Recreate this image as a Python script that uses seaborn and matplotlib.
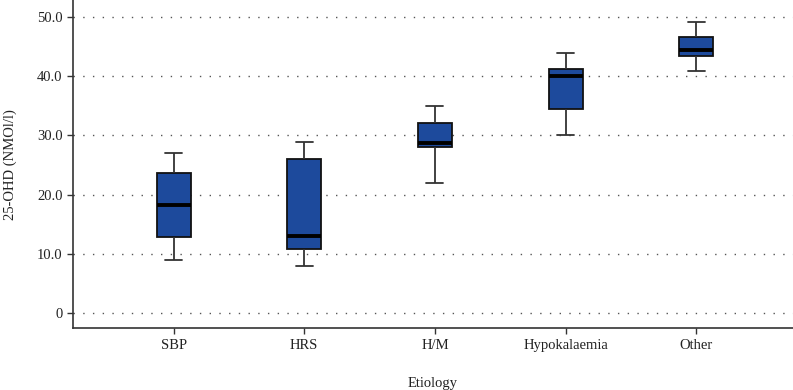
import matplotlib
matplotlib.use("Agg")
import matplotlib.pyplot as plt
import numpy as np
import pandas as pd
import seaborn as sns

# five-number summaries (min, q1, median, q3, max)
etiology = ["SBP", "HRS", "H/M", "Hypokalaemia", "Other"]
sbp = [9.0, 12.9, 18.3, 23.6, 27.0]
hrs = [7.9, 10.9, 13.0, 26.1, 28.9]
hm = [22.0, 28.0, 28.8, 32.1, 35.0]
hypok = [30.1, 34.5, 40.0, 41.2, 44.0]
other = [40.9, 43.5, 44.5, 46.7, 49.1]

yticks = [0, 10, 20, 30, 40, 50]
ytick_labels = ["0", "10.0", "20.0", "30.0", "40.0", "50.0"]

BOX_COLOR = "#1D4A9C"
LINE_COLOR = "#333333"

df = pd.DataFrame({
    "Etiology": np.repeat(etiology, 5),
    "ohd": sbp + hrs + hm + hypok + other,
})

sns.set_theme(style="white")
plt.rcParams["font.family"] = ["Liberation Serif", "DejaVu Serif"]

fig = plt.figure(figsize=(7.93, 3.90), dpi=100)
ax = fig.add_axes([0.092, 0.158, 0.908, 0.842])

sns.boxplot(
    data=df, x="Etiology", y="ohd", order=etiology,
    color=BOX_COLOR, saturation=1, width=0.26, whis=(0, 100),
    linewidth=1.3, linecolor="#111111",
    boxprops=dict(edgecolor="#111111", linewidth=1.3),
    medianprops=dict(color="#000000", linewidth=2.8),
    whiskerprops=dict(color=LINE_COLOR, linewidth=1.3),
    capprops=dict(color=LINE_COLOR, linewidth=1.3),
    ax=ax,
)

ax.set_xlim(-0.77, 4.74)
ax.set_ylim(-2.6, 52.9)
ax.set_yticks(yticks)
ax.set_yticklabels(ytick_labels)
ax.yaxis.grid(True, linestyle=(0, (1, 6)), color="#555555", linewidth=1.0)
ax.set_axisbelow(True)

for side in ["top", "right"]:
    ax.spines[side].set_visible(False)
for side in ["left", "bottom"]:
    ax.spines[side].set_color(LINE_COLOR)
    ax.spines[side].set_linewidth(1.2)

ax.tick_params(axis="both", which="major", direction="out", length=4.5, width=1.0,
               color=LINE_COLOR, labelsize=10.5, labelcolor="#222222", pad=3,
               left=True, bottom=True)

ax.set_xlabel("Etiology", fontsize=10.5, color="#222222", labelpad=18)
ax.set_ylabel("25-OHD (NMOl/l)", fontsize=10.5, color="#222222", labelpad=14)

fig.savefig("out.png", dpi=100)
